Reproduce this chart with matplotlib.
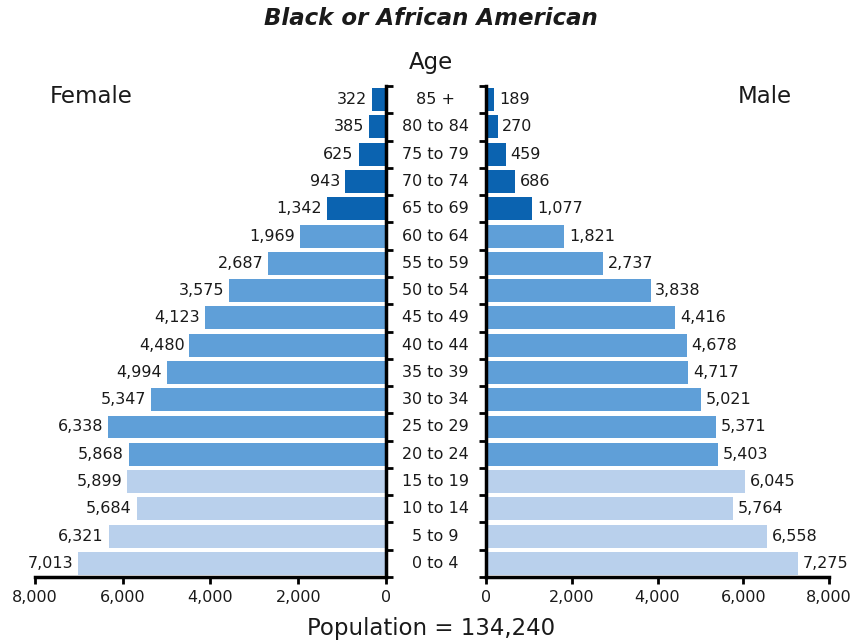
import numpy as np
import matplotlib.pyplot as plt
import matplotlib.transforms as mtransforms
from matplotlib.ticker import FuncFormatter

# data (bottom to top)
ages = ['0 to 4', '5 to 9', '10 to 14', '15 to 19', '20 to 24', '25 to 29',
        '30 to 34', '35 to 39', '40 to 44', '45 to 49', '50 to 54', '55 to 59',
        '60 to 64', '65 to 69', '70 to 74', '75 to 79', '80 to 84', '85 +']
female = [7013, 6321, 5684, 5899, 5868, 6338, 5347, 4994, 4480, 4123,
          3575, 2687, 1969, 1342, 943, 625, 385, 322]
male = [7275, 6558, 5764, 6045, 5403, 5371, 5021, 4717, 4678, 4416,
        3838, 2737, 1821, 1077, 686, 459, 270, 189]
total_pop = 134240

light, medium, dark = '#b9d0ec', '#5f9fd8', '#0b63b0'
colors = [light] * 4 + [medium] * 9 + [dark] * 5

plt.rcParams['font.family'] = 'DejaVu Sans'
fig = plt.figure(figsize=(8.56, 6.41), dpi=100)
axL = fig.add_axes([0.0409, 0.0998, 0.41, 0.766])
axR = fig.add_axes([0.5678, 0.0998, 0.4007, 0.766])

y = np.arange(len(ages))
fmt = FuncFormatter(lambda v, p: f'{int(v):,}')
txt = '#1a1a1a'

axL.barh(y, female, height=0.84, color=colors)
axR.barh(y, male, height=0.84, color=colors)

for i, v in enumerate(female):
    axL.text(v + 110, i, f'{v:,}', ha='right', va='center', fontsize=11.5, color=txt)
for i, v in enumerate(male):
    axR.text(v + 110, i, f'{v:,}', ha='left', va='center', fontsize=11.5, color=txt)

for ax in (axL, axR):
    ax.set_xlim(0, 8000)
    ax.set_ylim(-0.5, len(ages) - 0.5)
    ax.set_xticks([0, 2000, 4000, 6000, 8000])
    ax.xaxis.set_major_formatter(fmt)
    ax.set_yticks(np.arange(-0.5, len(ages) + 0.5, 1))
    ax.set_yticklabels([])
    ax.tick_params(axis='both', width=2, length=5, labelsize=11.5, colors='black',
                   labelcolor=txt, pad=4.5)
    ax.spines['top'].set_visible(False)
    for s in ('bottom', 'left', 'right'):
        ax.spines[s].set_linewidth(2.5)

axL.invert_xaxis()
axL.spines['left'].set_visible(False)
axL.yaxis.tick_right()
axR.spines['right'].set_visible(False)

# age labels in the gap between the two halves
trans = mtransforms.blended_transform_factory(fig.transFigure, axR.transData)
for i, a in enumerate(ages):
    axR.text(0.509, i, a, transform=trans, ha='center', va='center',
             fontsize=11.5, color=txt, clip_on=False)

fig.text(0.503, 0.971, 'Black or African American', ha='center', va='center',
         fontsize=16.5, fontweight='bold', fontstyle='italic', color=txt)
fig.text(0.504, 0.903, 'Age', ha='center', va='center', fontsize=16.5, color=txt)
fig.text(0.058, 0.849, 'Female', ha='left', va='center', fontsize=16.5, color=txt)
fig.text(0.925, 0.849, 'Male', ha='right', va='center', fontsize=16.5, color=txt)
fig.text(0.504, 0.020, f'Population = {total_pop:,}', ha='center', va='center',
         fontsize=16.5, color=txt)

plt.savefig('out.png', dpi=100)
